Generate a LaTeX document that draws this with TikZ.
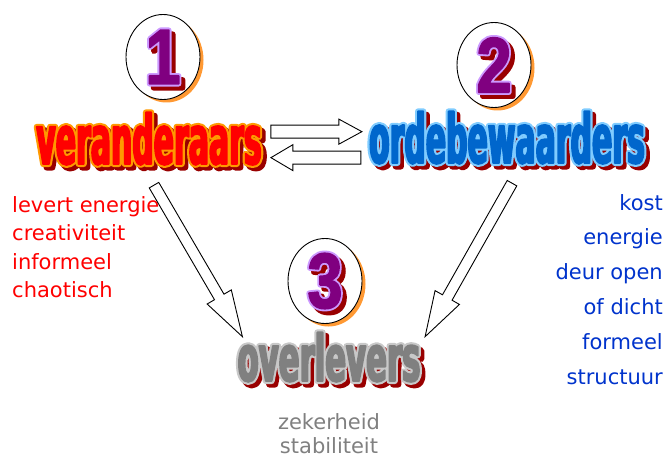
\documentclass[tikz,border=0pt]{standalone}
\usepackage{fontspec}
\setmainfont{DejaVu Sans}
\newfontfamily\artfont[FakeStretch=0.44]{DejaVu Sans}
\newfontfamily\artfontwide[FakeStretch=0.48]{DejaVu Sans}
\newfontfamily\digitfont[FakeStretch=0.8]{Liberation Sans}
\usetikzlibrary{positioning,calc,shapes.geometric,shadows}

\definecolor{shadowred}{HTML}{990000}
\definecolor{circleorange}{HTML}{FF9933}
\definecolor{digitpurple}{HTML}{800080}
\definecolor{digitlilac}{HTML}{CC99FF}
\definecolor{verfill}{HTML}{FF0000}
\definecolor{veroutline}{HTML}{FF9900}
\definecolor{ordfill}{HTML}{0066CC}
\definecolor{ordoutline}{HTML}{80CCFF}
\definecolor{ovlfill}{HTML}{808080}
\definecolor{ovloutline}{HTML}{C8C8C8}
\definecolor{levertred}{HTML}{FF0000}
\definecolor{kostblue}{HTML}{0033CC}

% text filled and stroked with the current colour
\newcommand\strokedtext[2]{%
  \special{pdf:literal direct 2 Tr #1 w 1 j}#2\special{pdf:literal direct 0 Tr 0.4 w 0 j}}
% word with outline and dark red shadow
\newcommand\wordart[5][3.5pt]{%
  \rlap{\kern#1\raisebox{-#1}[0pt][0pt]{\textcolor{shadowred}{\strokedtext{#4}{#5}}}}%
  \rlap{\textcolor{#3}{\strokedtext{#4}{#5}}}%
  \textcolor{#2}{\strokedtext{1.8}{#5}}}
\newcommand\numart[1]{{\digitfont\bfseries\fontsize{78}{78}\selectfont
  \wordart[4pt]{digitpurple}{digitlilac}{5.5}{#1}}}
% block arrow: from, to, shaft half width, head half width, head length
\newcommand\blockarrow[5]{%
  \draw[arrowbody] let \p1=(#1), \p2=(#2),
      \n1={atan2(\y2-\y1,\x2-\x1)}, \n2={veclen(\x2-\x1,\y2-\y1)} in
    [shift={(\p1)}, rotate=\n1]
    (0pt,#3pt) -- (\n2-#5pt,#3pt) -- (\n2-#5pt,#4pt) -- (\n2,0pt)
    -- (\n2-#5pt,-#4pt) -- (\n2-#5pt,-#3pt) -- (0pt,-#3pt) -- cycle;}

\begin{document}
\begin{tikzpicture}[x=1pt, y=-1pt,
        numcircle/.style={
            ellipse,
            draw=black,
            line width=0.9pt,
            fill=white,
            inner sep=0pt,
            minimum width=74pt,
            minimum height=85pt,
            drop shadow={shadow xshift=3.5pt, shadow yshift=-3pt,
                fill=circleorange, opacity=1}},
        word/.style={inner sep=0pt, anchor=base},
        listtext/.style={inner sep=0pt, font=\fontsize{21}{25}\selectfont},
        arrowbody/.style={draw=black, fill=white, line width=0.9pt, line join=miter}
        ]
        \useasboundingbox (0,0) rectangle (668,457);

        \node[numcircle] (n1) at (163,57) {\numart{1}};
        \node[numcircle] (n2) at (494,65) {\numart{2}};
        \node[numcircle] (n3) at (325,281) {\numart{3}};

        \node[word, font=\artfont\bfseries\fontsize{68}{68}\selectfont] (ver) at (149,164)
            {\wordart{verfill}{veroutline}{6}{veranderaars}};
        \node[word, font=\artfont\bfseries\fontsize{68}{68}\selectfont] (ord) at (507,163)
            {\wordart{ordfill}{ordoutline}{6}{ordebewaarders}};
        \node[word, font=\artfontwide\bfseries\fontsize{64}{64}\selectfont] (ovl) at (329,381)
            {\wordart{ovlfill}{ovloutline}{6}{overlevers}};

        \foreach \txt [count=\i] in {levert energie, creativiteit, informeel, chaotisch}
            \node[listtext, text=levertred, anchor=base west] (left\i) at (12,{212+28.5*(\i-1)}) {\txt};
        \foreach \txt [count=\i] in {kost, energie, deur open, of dicht, formeel, structuur}
            \node[listtext, text=kostblue, anchor=base east] (right\i) at (663,{210+34.8*(\i-1)}) {\txt};
        \node[listtext, text=ovlfill, anchor=base] (bottom1) at (329,429) {zekerheid};
        \node[listtext, text=ovlfill, anchor=base] (bottom2) at (329,453) {stabiliteit};

        \blockarrow{$(ver.east)+(9,-7)$}{$(ord.west)+(-7,-6)$}{6.5}{12.5}{23}
        \blockarrow{$(ord.west)+(-8,20)$}{$(ver.east)+(9,19)$}{6.5}{13}{22}
        \blockarrow{$(ver.south)+(5,20)$}{$(ovl.north west)+(5,4.5)$}{5.5}{14}{46}
        \blockarrow{$(ord.south)+(5,19)$}{$(ovl.north east)+(4.5,4.5)$}{5.5}{14}{45}
\end{tikzpicture}
\end{document}
